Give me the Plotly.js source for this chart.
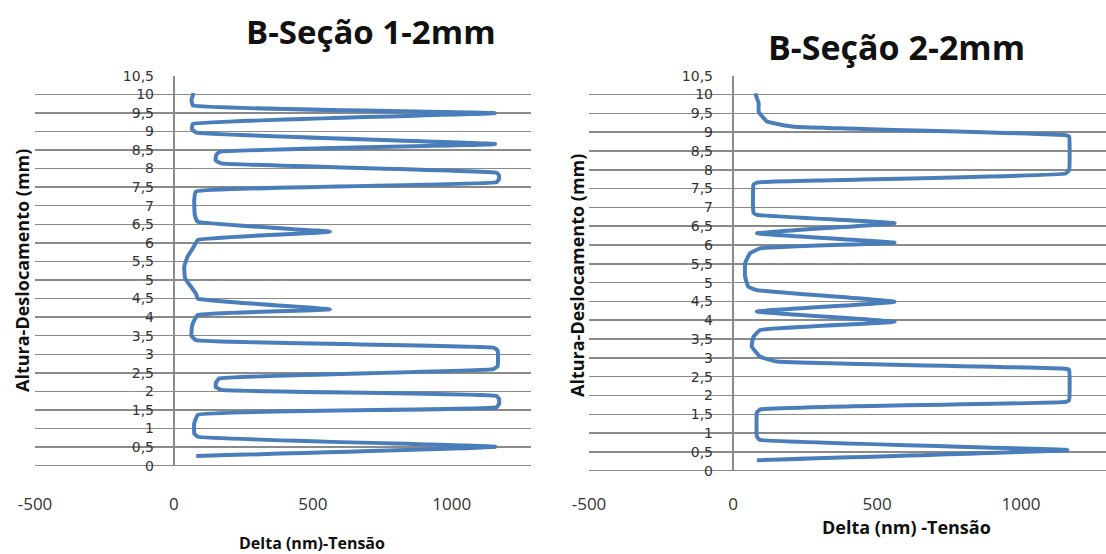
<!DOCTYPE html>
<html>
<head>
<meta charset="utf-8">
<script src="https://cdn.plot.ly/plotly-3.0.1.min.js"></script>
<style>html,body{margin:0;padding:0;background:#fff;}#chart{width:1106px;height:554px;}</style>
</head>
<body>
<div id="chart"></div>
<script>
// Chart 1: B-Seção 1-2mm
const deltaSec1 = [80,1157,86,73,73,86,1160,1170,1170,1160,170,150,152,164,1150,1165,1165,1150,79,63,65,72,86,561,86,79,61,40,37,49,72,86,561,85,75,73,79,1160,1170,1170,1160,170,150,152,164,1156,80,65,68,1155,68,63,71];
const alturaSec1 = [0.26,0.51,0.78,0.87,1.14,1.37,1.57,1.66,1.80,1.88,2.04,2.12,2.25,2.35,2.60,2.68,3.10,3.18,3.38,3.50,3.75,3.90,4.06,4.21,4.50,4.64,4.82,5.05,5.36,5.63,5.90,6.08,6.30,6.57,6.75,7.15,7.38,7.63,7.72,7.82,7.89,8.14,8.22,8.36,8.45,8.66,8.97,9.06,9.20,9.49,9.70,9.85,10.03];
// Chart 2: B-Seção 2-2mm
const deltaSec2 = [83,1161,94,83,83,95,339,1155,1167,1167,1155,374,153,94,65,71,94,561,83,561,83,53,42,42,59,94,561,83,561,83,71,71,83,339,1155,1167,1167,1155,374,211,118,89,89,77];
const alturaSec2 = [0.28,0.55,0.82,0.90,1.55,1.63,1.70,1.83,1.88,2.68,2.71,2.85,2.90,3.03,3.30,3.56,3.74,3.96,4.23,4.49,4.80,4.89,5.16,5.51,5.78,5.91,6.06,6.31,6.58,6.80,6.86,7.60,7.66,7.72,7.90,7.99,8.88,8.92,9.10,9.14,9.28,9.54,9.77,10.03];

const yTickVals = [0,0.5,1,1.5,2,2.5,3,3.5,4,4.5,5,5.5,6,6.5,7,7.5,8,8.5,9,9.5,10,10.5];
const yTickText = ["0","0,5","1","1,5","2","2,5","3","3,5","4","4,5","5","5,5","6","6,5","7","7,5","8","8,5","9","9,5","10","10,5"];
const xTickVals = [-500,0,500,1000];
const xTickText = ["-500","0","500","1000"];

const titles = ["B-Seção 1-2mm","B-Seção 2-2mm"];
const xTitles = ["Delta (nm)-Tensão","Delta (nm) -Tensão"];
const yTitle = "Altura-Deslocamento (mm)";

const W = 1106, H = 554;
const lineColor = "#4a7ebb";
const gridColor = "#8a8a8a";
const yTickFont = {family: "DejaVu Sans, sans-serif", size: 14, color: "#333"};
const xTickFont = {family: "Open Sans, sans-serif", size: 17, color: "#333"};

const traces = [
  {x: deltaSec1, y: alturaSec1, xaxis: "x", yaxis: "y", mode: "lines",
   line: {color: lineColor, width: 4, shape: "spline", smoothing: 0.3}, hoverinfo: "skip"},
  {x: deltaSec2, y: alturaSec2, xaxis: "x2", yaxis: "y2", mode: "lines",
   line: {color: lineColor, width: 4, shape: "spline", smoothing: 0.3}, hoverinfo: "skip"}
];

function xAxis(domPx, range, standoff) {
  return {
    domain: [domPx[0]/W, domPx[1]/W], range: range, fixedrange: true,
    tickvals: xTickVals, ticktext: xTickText, tickfont: xTickFont,
    showgrid: false, zeroline: true, zerolinecolor: gridColor, zerolinewidth: 1.5,
    showline: false, ticks: "", ticklabelstandoff: standoff
  };
}
function yAxis(domPxTop, domPxBot, anchorPos) {
  return {
    domain: [1 - domPxBot/H, 1 - domPxTop/H], range: [0, 10.5], fixedrange: true,
    anchor: "free", position: anchorPos, side: "left",
    tickvals: yTickVals, ticktext: yTickText, tickfont: yTickFont,
    showgrid: true, gridcolor: gridColor, gridwidth: 1.5,
    zeroline: true, zerolinecolor: gridColor, zerolinewidth: 1.5,
    showline: false, ticks: "", ticklabelstandoff: 20
  };
}

const x1 = [35, 531], x2 = [589, 1106];
const pos1 = 174 / W, pos2 = 733 / W;

const layout = {
  width: W, height: H,
  margin: {l: 0, r: 0, t: 0, b: 0},
  paper_bgcolor: "#fff", plot_bgcolor: "#fff",
  showlegend: false,
  xaxis: xAxis(x1, [-500, 1285], 26),
  yaxis: yAxis(75.7, 465.7, pos1),
  xaxis2: xAxis(x2, [-500, 1295], 26),
  yaxis2: yAxis(75.7, 470.7, pos2),
  annotations: [
    {text: "<b>" + titles[0] + "</b>", x: 371/W, y: 1 - 31/H, xref: "paper", yref: "paper",
     showarrow: false, xanchor: "center", yanchor: "middle", font: {family: "Open Sans, sans-serif", size: 33, color: "#111"}},
    {text: "<b>" + titles[1] + "</b>", x: 896/W, y: 1 - 47/H, xref: "paper", yref: "paper",
     showarrow: false, xanchor: "center", yanchor: "middle", font: {family: "Open Sans, sans-serif", size: 34, color: "#111"}},
    {text: "<b>" + xTitles[0] + "</b>", x: 312/W, y: 1 - 543/H, xref: "paper", yref: "paper",
     showarrow: false, xanchor: "center", yanchor: "middle", font: {family: "Open Sans, sans-serif", size: 16, color: "#111"}},
    {text: "<b>" + xTitles[1] + "</b>", x: 906/W, y: 1 - 527/H, xref: "paper", yref: "paper",
     showarrow: false, xanchor: "center", yanchor: "middle", font: {family: "Open Sans, sans-serif", size: 18, color: "#111"}},
    {text: "<b>" + yTitle + "</b>", x: 22/W, y: 1 - 271/H, xref: "paper", yref: "paper", textangle: -90,
     showarrow: false, xanchor: "center", yanchor: "middle", font: {family: "Open Sans, sans-serif", size: 18, color: "#111"}},
    {text: "<b>" + yTitle + "</b>", x: 577/W, y: 1 - 276/H, xref: "paper", yref: "paper", textangle: -90,
     showarrow: false, xanchor: "center", yanchor: "middle", font: {family: "Open Sans, sans-serif", size: 18, color: "#111"}}
  ]
};

Plotly.newPlot("chart", traces, layout, {staticPlot: true, displayModeBar: false});
</script>
</body>
</html>
